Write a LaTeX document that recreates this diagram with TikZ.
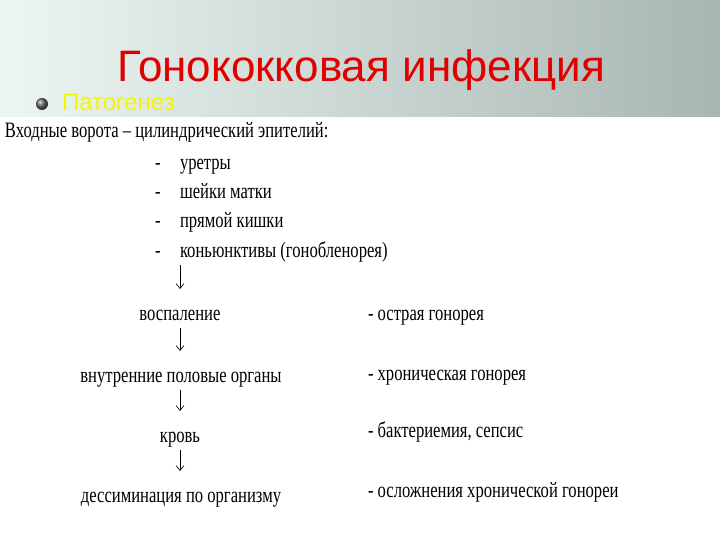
\documentclass[tikz,border=0pt]{standalone}
\usepackage{fontspec}
\setmainfont{Liberation Serif}
\newfontfamily\headfont{Liberation Sans}
\newfontfamily\scanfont[FakeStretch=0.755]{Liberation Serif}
\usetikzlibrary{arrows.meta}
\definecolor{headlight}{RGB}{236,246,243}
\definecolor{headdark}{RGB}{168,182,178}
\definecolor{titlered}{RGB}{225,0,0}
\definecolor{subyellow}{RGB}{245,245,0}
\tikzstyle{every node}=[inner sep=0pt,outer sep=0pt]
\tikzstyle{scantext}=[font=\scanfont\fontsize{22}{24}\selectfont,text height=16pt,text depth=5pt]
\tikzstyle{leftcol}=[scantext,anchor=base west]
\tikzstyle{midcol}=[scantext,anchor=base]
\tikzstyle{down}=[-{Straight Barb[length=5pt,width=8pt]},line width=0.6pt,shorten <=3pt,shorten >=15pt]
\newcommand{\dash}{\makebox[25pt][l]{-}}

\begin{document}
\begin{tikzpicture}[x=1pt,y=-1pt]
  \useasboundingbox (0,0) rectangle (720,540);
  \fill[white] (0,0) rectangle (720,540);
  % header band
  \shade[left color=headlight,right color=headdark] (0,0) rectangle (720,117);
  \node[font=\headfont\fontsize{44}{50}\selectfont,text=titlered,anchor=base] (title) at (361,82) {Гонококковая инфекция};
  \shade[ball color=gray!80!black] (42,104) circle (6pt);
  \node[font=\headfont\fontsize{24}{26}\selectfont,text=subyellow,anchor=base west] (patho) at (62,111) {Патогенез};
  % entry gates
  \node[leftcol] (entry) at (5,138) {Входные ворота – цилиндрический эпителий:};
  \node[leftcol] (urethra) at (155,170) {\dash уретры};
  \node[leftcol] (cervix) at (155,199) {\dash шейки матки};
  \node[leftcol] (rectum) at (155,228) {\dash прямой кишки};
  \node[leftcol] (conj) at (155,257) {\dash коньюнктивы (гонобленорея)};
  % spread chain
  \node[midcol] (inflam) at (180,320) {воспаление};
  \node[midcol] (organs) at (181,382) {внутренние половые органы};
  \node[midcol] (blood) at (180,442) {кровь};
  \node[midcol] (spread) at (181,502) {дессиминация по организму};
  \draw[down] (inflam |- conj.south) -- (inflam.north);
  \draw[down] (inflam.south) -- (inflam |- organs.north);
  \draw[down] (inflam |- organs.south) -- (inflam |- blood.north);
  \draw[down] (inflam |- blood.south) -- (inflam |- spread.north);
  % outcomes
  \node[leftcol] (acute) at (368,320) {- острая гонорея};
  \node[leftcol] (chronic) at (368,380) {- хроническая гонорея};
  \node[leftcol] (sepsis) at (368,437) {- бактериемия, сепсис};
  \node[leftcol] (compl) at (368,497) {- осложнения хронической гонореи};
\end{tikzpicture}
\end{document}
